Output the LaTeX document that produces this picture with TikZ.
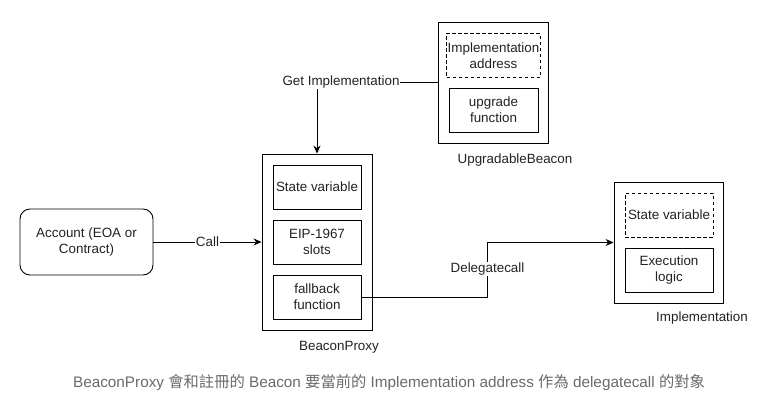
\documentclass[tikz,border=0pt]{standalone}
\usepackage{fontspec}
\setmainfont{Liberation Sans}
\newfontfamily\cjkfont{Noto Sans CJK TC}
\usetikzlibrary{arrows.meta}
\definecolor{inkgray}{HTML}{222222}
\definecolor{capgray}{HTML}{6A6A6A}
\tikzset{
  outerbox/.style = {shape=rectangle, draw, line width=0.9pt,
                     minimum width=110pt, minimum height=121pt},
  innerbox/.style = {shape=rectangle, draw, line width=0.9pt, align=center,
                     minimum width=88pt, minimum height=44pt, inner sep=1pt},
  slotbox/.style  = {innerbox, dash pattern=on 3.5pt off 2.5pt},
  account/.style  = {shape=rectangle, rounded corners=10pt, draw,
                     line width=0.9pt, align=center,
                     minimum width=133pt, minimum height=66pt},
  caption/.style  = {text=inkgray},
  edgelabel/.style = {fill=white, inner sep=1pt}
}
\newcommand{\zh}[1]{{\cjkfont #1}}
\begin{document}
\begin{tikzpicture}
  [
    x = 1pt, y = -1pt,
    every node/.style = {font=\fontsize{13.4}{16}\selectfont, text=inkgray},
    link/.style       = {draw, line width=0.9pt, -{Stealth[length=8pt,width=7pt]}}
  ]
  \useasboundingbox (0,0) rectangle (778,414);
  \node [account] (acct) at (86.5,242) {Account (EOA or\\Contract)};
  \node [outerbox, minimum height=176pt] (proxy) at (317,242) {};
  \node [innerbox] (state) at (317,187) {State variable};
  \node [innerbox] (slots) at (317,242) {EIP-1967\\slots};
  \node [innerbox] (fallback) at (317,297) {fallback\\function};
  \node [caption] (proxyname) at (339,347) {BeaconProxy};
  \node [outerbox] (beacon) at (493,82.5) {};
  \node [slotbox, minimum width=89pt] (address) at (493.5,55.5) {Implementation\\address};
  \node [innerbox, minimum width=89pt] (upgrade) at (493.5,110) {upgrade\\function};
  \node [caption] (beaconname) at (515,160) {UpgradableBeacon};
  \node [outerbox, minimum width=109pt] (impl) at (668.5,242.5) {};
  \node [slotbox] (implstate) at (669,215) {State variable};
  \node [innerbox] (logic) at (669,270) {Execution\\logic};
  \node [caption] (implname) at (702,318) {Implementation};
  \coordinate (split) at (487.5,269);
  \draw [link] (acct) -- node [edgelabel] (call) {Call} (proxy);
  \draw [link] (beacon.west) -| (proxy.north);
  \node [edgelabel] (getimpl) at (341,82) {Get Implementation};
  \draw [link] (fallback.east) -| (split) |- (impl.west);
  \node [edgelabel] (delegate) at (split) {Delegatecall};
  \node [text=capgray, font=\fontsize{15.3}{17}\selectfont] (note) at (389,383)
    {BeaconProxy \zh{會和註冊的} Beacon \zh{要當前的} Implementation address \zh{作為} delegatecall \zh{的對象}};
\end{tikzpicture}
\end{document}
